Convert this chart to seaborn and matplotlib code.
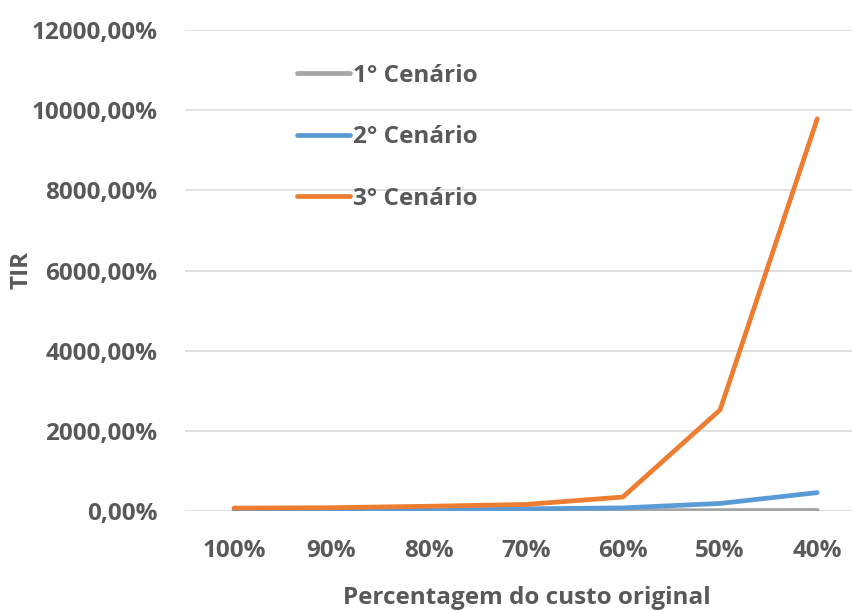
import matplotlib
matplotlib.use("Agg")
import matplotlib.pyplot as plt
import seaborn as sns
import pandas as pd
from matplotlib.ticker import FuncFormatter, MultipleLocator

# Categories: share of the original cost
custos = ["100%", "90%", "80%", "70%", "60%", "50%", "40%"]

# TIR (%) for each scenario
cenario_1 = [10, 12, 14, 16, 19, 22, 26]
cenario_2 = [35, 42, 52, 65, 90, 200, 470]
cenario_3 = [85, 95, 130, 175, 360, 2530, 9780]

nomes = ["1° Cenário", "2° Cenário", "3° Cenário"]
cores = ["#A5A5A5", "#5B9BD5", "#ED7D31"]

df = pd.DataFrame({
    "custo": custos * 3,
    "tir": cenario_1 + cenario_2 + cenario_3,
    "cenario": [nomes[0]] * 7 + [nomes[1]] * 7 + [nomes[2]] * 7,
})
df["pos"] = df.groupby("cenario").cumcount()

sns.set_theme(style="white")
plt.rcParams["font.family"] = ["Open Sans", "DejaVu Sans"]

texto = "#595959"
fs = 17.5
fig = plt.figure(figsize=(8.53, 6.10), dpi=100)
ax = fig.add_axes([0.2174, 0.1615, 0.7977, 0.790])

sns.lineplot(data=df, x="pos", y="tir", hue="cenario", palette=cores,
             hue_order=nomes, linewidth=3.4, ax=ax, legend=False,
             solid_capstyle="round", solid_joinstyle="round")

ax.set_xlim(-0.5, 6.5)
ax.set_ylim(0, 12000)
ax.yaxis.set_major_locator(MultipleLocator(2000))
ax.yaxis.set_major_formatter(
    FuncFormatter(lambda v, _: f"{v:.2f}".replace(".", ",") + "%"))
ax.set_xticks(range(len(custos)))
ax.set_xticklabels(custos)

ax.grid(axis="y", color="#D9D9D9", linewidth=1.1)
ax.set_axisbelow(True)
for s in ax.spines.values():
    s.set_visible(False)

ax.tick_params(axis="both", length=0, labelsize=fs, labelcolor=texto)
ax.tick_params(axis="y", pad=20)
ax.tick_params(axis="x", pad=20)
for lab in ax.get_xticklabels() + ax.get_yticklabels():
    lab.set_fontweight("bold")

ax.set_xlabel("Percentagem do custo original", fontsize=fs,
              fontweight="bold", color=texto, va="center")
ax.xaxis.set_label_coords(527 / 853, 1 - 598 / 610, transform=fig.transFigure)
ax.set_ylabel("TIR", fontsize=fs, fontweight="bold", color=texto,
              va="center")
ax.yaxis.set_label_coords(22 / 853, 1 - 270 / 610, transform=fig.transFigure)

handles = [plt.Line2D([], [], color=c, linewidth=3.4, solid_capstyle="round")
           for c in cores]
leg = ax.legend(handles, nomes, loc="upper left",
                bbox_to_anchor=(297 / 853, 1 - 64 / 610),
                bbox_transform=fig.transFigure, frameon=False,
                handlelength=2.2, handletextpad=0.1, labelspacing=1.54,
                borderpad=0, borderaxespad=0,
                prop={"size": fs, "weight": "bold"})
for t in leg.get_texts():
    t.set_color(texto)

fig.savefig("out.png", dpi=100, facecolor="white")
